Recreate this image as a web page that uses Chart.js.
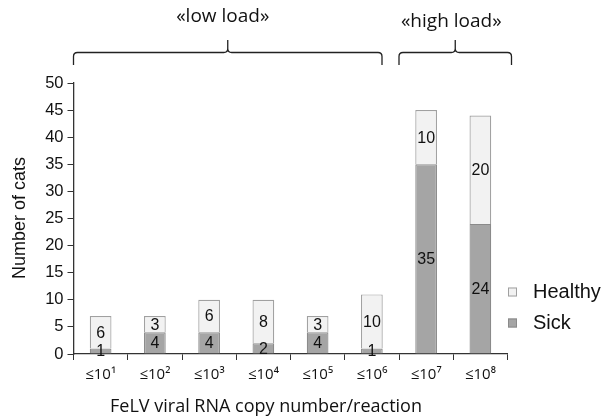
<!DOCTYPE html>
<html><head><meta charset="utf-8">
<script src="https://cdn.jsdelivr.net/npm/chart.js@4/dist/chart.umd.min.js"></script>
<style>html,body{margin:0;padding:0;background:#fff;}#wrap{position:relative;width:603px;height:416px;}</style>
</head><body><div id="wrap"><canvas id="c" width="603" height="416"></canvas></div>
<script>
const categories = ['≤10¹','≤10²','≤10³','≤10⁴','≤10⁵','≤10⁶','≤10⁷','≤10⁸'];
const sick = [1,4,4,2,4,1,35,24];
const healthy = [6,3,6,8,3,10,10,20];
const yTicks = [0,5,10,15,20,25,30,35,40,45,50];
const groups = [{label:'«low load»', from:0, to:5},{label:'«high load»', from:6, to:7}];

const extras = {
  id:'extras',
  afterDatasetsDraw(chart){
    const ctx = chart.ctx;
    ctx.save();
    ctx.font = '16px "Liberation Sans", Arial, sans-serif';
    ctx.fillStyle = '#111';
    ctx.textAlign = 'center'; ctx.textBaseline = 'middle';
    chart.data.datasets.forEach((ds, di) => {
      const meta = chart.getDatasetMeta(di);
      meta.data.forEach((bar, i) => {
        const p = bar.getProps(['x','y','base'], true);
        ctx.fillText(String(ds.data[i]), p.x, (p.y + p.base)/2 + 1);
      });
    });
    ctx.restore();
  },
  afterDraw(chart){
    const ctx = chart.ctx;
    const xs = chart.scales.x;
    const half = (xs.getPixelForValue(1) - xs.getPixelForValue(0))/2;
    ctx.save();
    ctx.strokeStyle = '#222'; ctx.lineWidth = 1.3;
    ctx.fillStyle = '#111';
    ctx.textAlign = 'center'; ctx.textBaseline = 'middle';
    ctx.font = '19px "Open Sans", "Liberation Sans", sans-serif';
    groups.forEach((g, gi) => {
      const x0 = xs.getPixelForValue(g.from) - half;
      const x1 = xs.getPixelForValue(g.to) + half + (gi===0 ? -17 : 4);
      const xm = (x0 + x1)/2;
      const yl = 52.5, yb = 65, yp = 40, r = 4;
      ctx.beginPath();
      ctx.moveTo(x0, yb);
      ctx.lineTo(x0, yl + r);
      ctx.quadraticCurveTo(x0, yl, x0 + r, yl);
      ctx.lineTo(xm - r, yl);
      ctx.quadraticCurveTo(xm, yl, xm, yl - r);
      ctx.lineTo(xm, yp);
      ctx.moveTo(xm, yl - r);
      ctx.quadraticCurveTo(xm, yl, xm + r, yl);
      ctx.lineTo(x1 - r, yl);
      ctx.quadraticCurveTo(x1, yl, x1, yl + r);
      ctx.lineTo(x1, yb);
      ctx.stroke();
      ctx.fillText(g.label, xm - (gi===0 ? 5 : 4), gi===0 ? 17 : 22);
    });
    ctx.font = '18px "Open Sans", "Liberation Sans", sans-serif';
    ctx.fillText('FeLV viral RNA copy number/reaction', 266, 407);
    ctx.save();
    ctx.translate(20, 218);
    ctx.rotate(-Math.PI/2);
    ctx.font = '18px "Liberation Sans", Arial, sans-serif';
    ctx.fillText('Number of cats', 0, 0);
    ctx.restore();
    const items = [{ds:chart.data.datasets[1], y:292},{ds:chart.data.datasets[0], y:323}];
    ctx.font = '20px "Liberation Sans", Arial, sans-serif';
    ctx.textAlign = 'left';
    items.forEach(it => {
      ctx.fillStyle = it.ds.backgroundColor;
      ctx.fillRect(508, it.y - 4.5, 9, 9);
      ctx.strokeStyle = it.ds.borderColor; ctx.lineWidth = 1;
      ctx.strokeRect(508.5, it.y - 4, 8, 8);
      ctx.fillStyle = '#111';
      ctx.fillText(it.ds.label, 533, it.y);
    });
    ctx.restore();
  }
};

new Chart(document.getElementById('c'), {
  type:'bar',
  data:{
    labels: categories,
    datasets:[
      {label:'Sick', data:sick, backgroundColor:'#a5a5a5', borderColor:'#8a8a8a', borderWidth:1.2, barPercentage:0.4, categoryPercentage:1},
      {label:'Healthy', data:healthy, backgroundColor:'#f2f2f2', borderColor:'#a0a0a0', borderWidth:1.2, barPercentage:0.4, categoryPercentage:1}
    ]
  },
  options:{
    responsive:false, animation:false,
    layout:{padding:{left:0, right:95.5, top:83, bottom:0}},
    plugins:{legend:{display:false}, tooltip:{enabled:false}},
    scales:{
      x:{
        stacked:true,
        afterFit(s){ s.height = 62; },
        grid:{display:true, drawOnChartArea:false, drawTicks:true, tickLength:6, color:'#333', offset:true},
        border:{display:true, color:'#333', width:1.3},
        ticks:{color:'#111', font:{size:15, family:'"Open Sans", "Liberation Sans", sans-serif'}, padding:6}
      },
      y:{
        stacked:true, min:0, max:50,
        afterBuildTicks(s){ s.ticks = yTicks.map(v=>({value:v})); },
        afterFit(s){ s.width = 73.5; },
        grid:{display:true, drawOnChartArea:false, drawTicks:true, tickLength:6, color:'#333'},
        border:{display:true, color:'#333', width:1.3},
        ticks:{color:'#111', font:{size:16.5, family:'"Liberation Sans", Arial, sans-serif'}, padding:4}
      }
    }
  },
  plugins:[extras]
});
</script></body></html>
